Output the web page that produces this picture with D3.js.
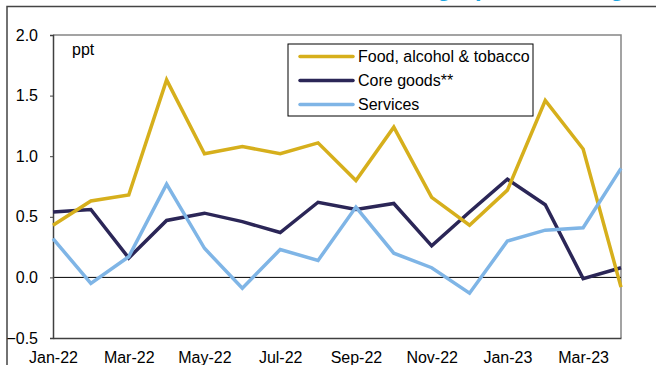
<!DOCTYPE html>
<html>
<head>
<meta charset="utf-8">
<script src="https://cdn.jsdelivr.net/npm/d3@7"></script>
<style>
  body { margin: 0; background: #fff; }
  svg { display: block; font-family: "Liberation Sans", Arial, sans-serif; }
</style>
</head>
<body>
<script>
// months on the x axis
var months = ["Jan-22", "Feb-22", "Mar-22", "Apr-22", "May-22", "Jun-22", "Jul-22", "Aug-22",
              "Sep-22", "Oct-22", "Nov-22", "Dec-22", "Jan-23", "Feb-23", "Mar-23", "Apr-23"];

// contributions, ppt
var food = [0.43, 0.63, 0.68, 1.63, 1.02, 1.08, 1.02, 1.11, 0.80, 1.24, 0.66, 0.43, 0.72, 1.46, 1.06, -0.08];
var coreGoods = [0.54, 0.56, 0.16, 0.47, 0.53, 0.46, 0.37, 0.62, 0.56, 0.61, 0.26, 0.54, 0.81, 0.60, -0.01, 0.08];
var services = [0.32, -0.05, 0.17, 0.77, 0.24, -0.09, 0.23, 0.14, 0.58, 0.20, 0.08, -0.13, 0.30, 0.39, 0.41, 0.90];

var seriesNames = ["Food, alcohol & tobacco", "Core goods**", "Services"];
var yTicks = [-0.5, 0.0, 0.5, 1.0, 1.5, 2.0];
var xTickLabels = ["Jan-22", "Mar-22", "May-22", "Jul-22", "Sep-22", "Nov-22", "Jan-23", "Mar-23"];

var colors = {food: "#d6af1c", core: "#2b2657", services: "#7fb5e6"};

var svg = d3.select("body").append("svg")
    .attr("width", 656)
    .attr("height", 365);

// cut off title letters at the very top (only descenders show)
var titleBits = [{t: "g", x: 437}, {t: "p", x: 475}, {t: "g", x: 610}];
svg.selectAll(".titlebit").data(titleBits).enter()
    .append("text")
    .attr("class", "titlebit")
    .attr("x", function(d){ return d.x; })
    .attr("y", -4)
    .attr("fill", "#1ba6e2")
    .attr("font-size", 24)
    .attr("font-weight", "bold")
    .text(function(d){ return d.t; });

// outer frame (top and left)
svg.append("path")
    .attr("d", "M7,365 V6.5 H656")
    .attr("fill", "none")
    .attr("stroke", "#444")
    .attr("stroke-width", 1.5);

var x = d3.scalePoint().domain(months).range([53, 621]);
var y = d3.scaleLinear().domain([-0.5, 2.0]).range([338, 35]);

// plot frame: grey top and right
svg.append("path")
    .attr("d", "M53," + y(2) + " H621 V" + y(-0.5))
    .attr("fill", "none")
    .attr("stroke", "#858585")
    .attr("stroke-width", 1.5);

// zero line
svg.append("line")
    .attr("x1", 53).attr("x2", 621)
    .attr("y1", y(0)).attr("y2", y(0))
    .attr("stroke", "#000")
    .attr("stroke-width", 1);

// y axis
var yAxis = svg.append("g")
    .attr("transform", "translate(53,0)")
    .call(d3.axisLeft(y).tickValues(yTicks).tickFormat(d3.format(".1f")).tickSize(3).tickPadding(12));
yAxis.select(".domain").attr("stroke", "#404040").attr("stroke-width", 1.5);
yAxis.selectAll(".tick line").attr("stroke", "#404040");
yAxis.selectAll("text").attr("font-size", 16).attr("font-family", "Liberation Sans, Arial, sans-serif").attr("fill", "#000");

// x axis
var xAxis = svg.append("g")
    .attr("transform", "translate(0," + y(-0.5) + ")")
    .call(d3.axisBottom(x).tickValues(xTickLabels).tickSize(0).tickSizeOuter(0));
xAxis.select(".domain").attr("stroke", "#404040").attr("stroke-width", 1.5);
xAxis.selectAll("text")
    .attr("dy", null)
    .attr("y", 24.5)
    .attr("font-size", 16)
    .attr("font-family", "Liberation Sans, Arial, sans-serif")
    .attr("fill", "#000");

// unit label
svg.append("text")
    .attr("x", 72).attr("y", 55)
    .attr("font-size", 16)
    .text("ppt");

// lines
var line = d3.line()
    .x(function(d, i){ return x(months[i]); })
    .y(function(d){ return y(d); });

var lines = [
    {values: coreGoods, color: colors.core},
    {values: food, color: colors.food},
    {values: services, color: colors.services}
];

svg.selectAll(".series").data(lines).enter()
    .append("path")
    .attr("class", "series")
    .attr("d", function(d){ return line(d.values); })
    .attr("fill", "none")
    .attr("stroke", function(d){ return d.color; })
    .attr("stroke-width", 3.5)
    .attr("stroke-linejoin", "miter");

// legend
var legend = svg.append("g").attr("transform", "translate(288,44)");
legend.append("rect")
    .attr("width", 245).attr("height", 72)
    .attr("fill", "#fff")
    .attr("stroke", "#000")
    .attr("stroke-width", 1);

var legendItems = [
    {name: seriesNames[0], color: colors.food},
    {name: seriesNames[1], color: colors.core},
    {name: seriesNames[2], color: colors.services}
];

var rows = legend.selectAll(".row").data(legendItems).enter()
    .append("g")
    .attr("class", "row")
    .attr("transform", function(d, i){ return "translate(0," + (12.5 + i * 24) + ")"; });

rows.append("line")
    .attr("x1", 12).attr("x2", 65)
    .attr("stroke", function(d){ return d.color; })
    .attr("stroke-width", 3.5)
    .attr("stroke-linecap", "round");

rows.append("text")
    .attr("x", 70).attr("y", 5.5)
    .attr("font-size", 16)
    .text(function(d){ return d.name; });
</script>
</body>
</html>
